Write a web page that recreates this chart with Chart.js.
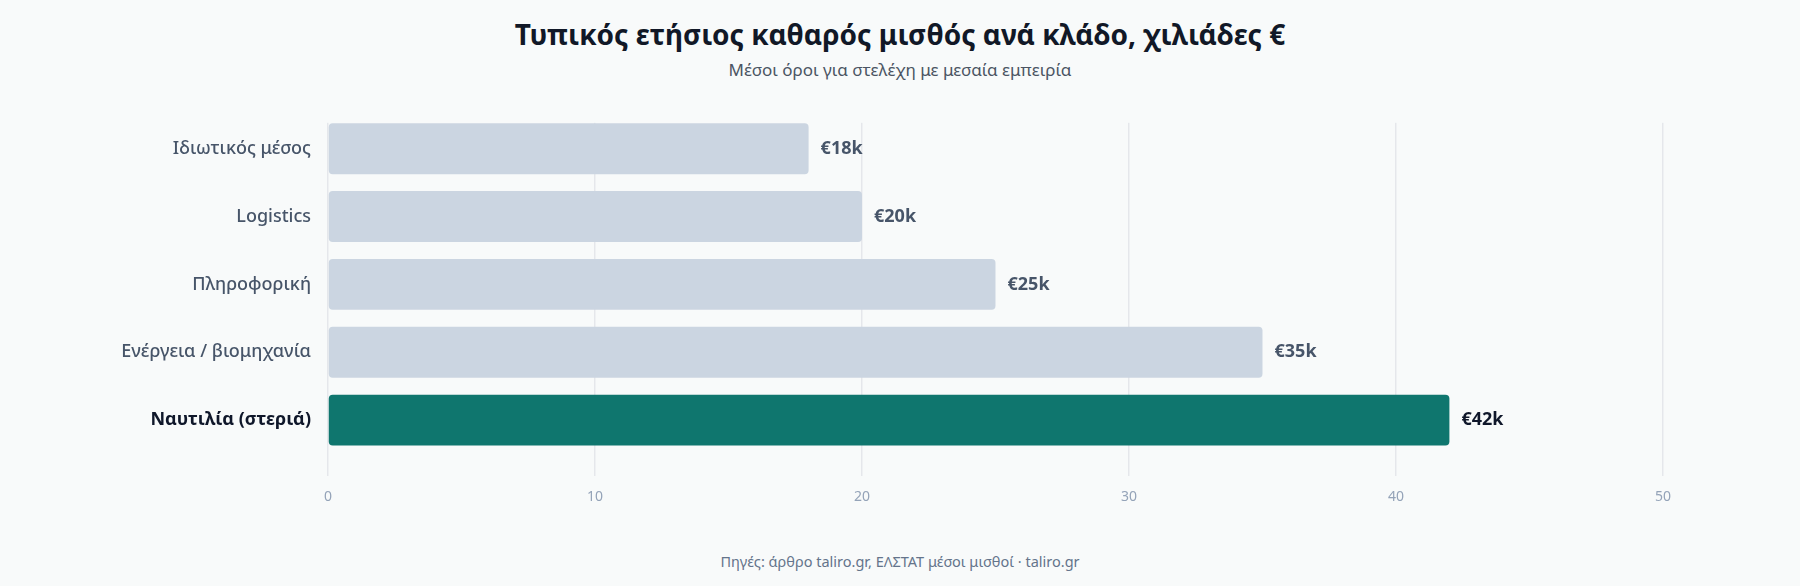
<!DOCTYPE html>
<html>
<head>
<meta charset="utf-8">
<script src="https://cdn.jsdelivr.net/npm/chart.js@4"></script>
<style>
  html, body { margin: 0; padding: 0; background: #f8fafa; }
  body { width: 1800px; height: 586px; position: relative; overflow: hidden; font-family: "Noto Sans", sans-serif; }
  .title { position: absolute; left: 0; width: 1800px; top: 14px; line-height: 40px; text-align: center; font-size: 28px; font-weight: 700; color: #111827; }
  .subtitle { position: absolute; left: 0; width: 1800px; top: 58px; line-height: 24px; text-align: center; font-size: 17px; color: #4b5563; }
  .footer { position: absolute; left: 0; width: 1800px; top: 549px; line-height: 24px; text-align: center; font-size: 14.5px; color: #64748b; }
  .wrap { position: absolute; left: 0; top: 95px; width: 1800px; height: 419px; }
</style>
</head>
<body>
<div class="title">Τυπικός ετήσιος καθαρός μισθός ανά κλάδο, χιλιάδες €</div>
<div class="subtitle">Μέσοι όροι για στελέχη με μεσαία εμπειρία</div>
<div class="wrap"><canvas id="salaryChart"></canvas></div>
<div class="footer">Πηγές: άρθρο taliro.gr, ΕΛΣΤΑΤ μέσοι μισθοί · taliro.gr</div>

<script>
const categories = ['Ιδιωτικός μέσος', 'Logistics', 'Πληροφορική', 'Ενέργεια / βιομηχανία', 'Ναυτιλία (στεριά)'];
const salaries = [18, 20, 25, 35, 42];
const highlighted = [false, false, false, false, true];
const xTicks = [0, 10, 20, 30, 40, 50];

const pageBg = '#f8fafa';
const greyBar = '#cbd5e1';
const tealBar = '#0f766e';

// grid lines start at the top of the first bar, not at the top of the plot
const trimGridTop = {
    id: 'trimGridTop',
    beforeDatasetsDraw(chart) {
        const { ctx, chartArea } = chart;
        ctx.save();
        ctx.fillStyle = pageBg;
        ctx.fillRect(chartArea.left - 2, chartArea.top - 2, chartArea.width + 4, 10);
        ctx.restore();
    }
};

// value labels at the end of each bar
const valueLabels = {
    id: 'valueLabels',
    afterDatasetsDraw(chart) {
        const ctx = chart.ctx;
        const meta = chart.getDatasetMeta(0);
        ctx.save();
        ctx.font = '700 18px "Noto Sans"';
        ctx.textBaseline = 'middle';
        ctx.textAlign = 'left';
        meta.data.forEach((bar, i) => {
            ctx.fillStyle = highlighted[i] ? '#0f172a' : '#475569';
            ctx.fillText('€' + salaries[i] + 'k', bar.x + 12, bar.y);
        });
        ctx.restore();
    }
};

const ctx = document.getElementById('salaryChart');
new Chart(ctx, {
    type: 'bar',
    data: {
        labels: categories,
        datasets: [{
            data: salaries,
            backgroundColor: highlighted.map(h => h ? tealBar : greyBar),
            borderRadius: 4,
            borderSkipped: false,
            categoryPercentage: 0.75,
            barPercentage: 1
        }]
    },
    options: {
        indexAxis: 'y',
        responsive: true,
        maintainAspectRatio: false,
        animation: false,
        layout: { padding: { top: 2, right: 137, left: 0, bottom: 0 } },
        plugins: {
            legend: { display: false },
            tooltip: { enabled: false }
        },
        scales: {
            x: {
                min: 0,
                max: 50,
                afterBuildTicks: (scale) => { scale.ticks = xTicks.map(v => ({ value: v })); },
                afterFit: (scale) => { scale.height = 60; },
                border: { display: false },
                grid: {
                    color: '#e5e7eb',
                    lineWidth: 1.5,
                    drawTicks: true,
                    tickLength: 22,
                    tickColor: '#e5e7eb'
                },
                ticks: {
                    color: '#94a3b8',
                    padding: 13,
                    font: { family: '"Noto Sans"', size: 14 }
                }
            },
            y: {
                afterFit: (scale) => { scale.width = 328; },
                border: { display: false },
                grid: { display: false },
                ticks: {
                    padding: 9,
                    color: (c) => highlighted[c.index] ? '#0f172a' : '#475569',
                    font: (c) => ({
                        family: '"Noto Sans"',
                        size: 18,
                        weight: highlighted[c.index] ? '700' : '500'
                    })
                }
            }
        }
    },
    plugins: [trimGridTop, valueLabels]
});
</script>
</body>
</html>
